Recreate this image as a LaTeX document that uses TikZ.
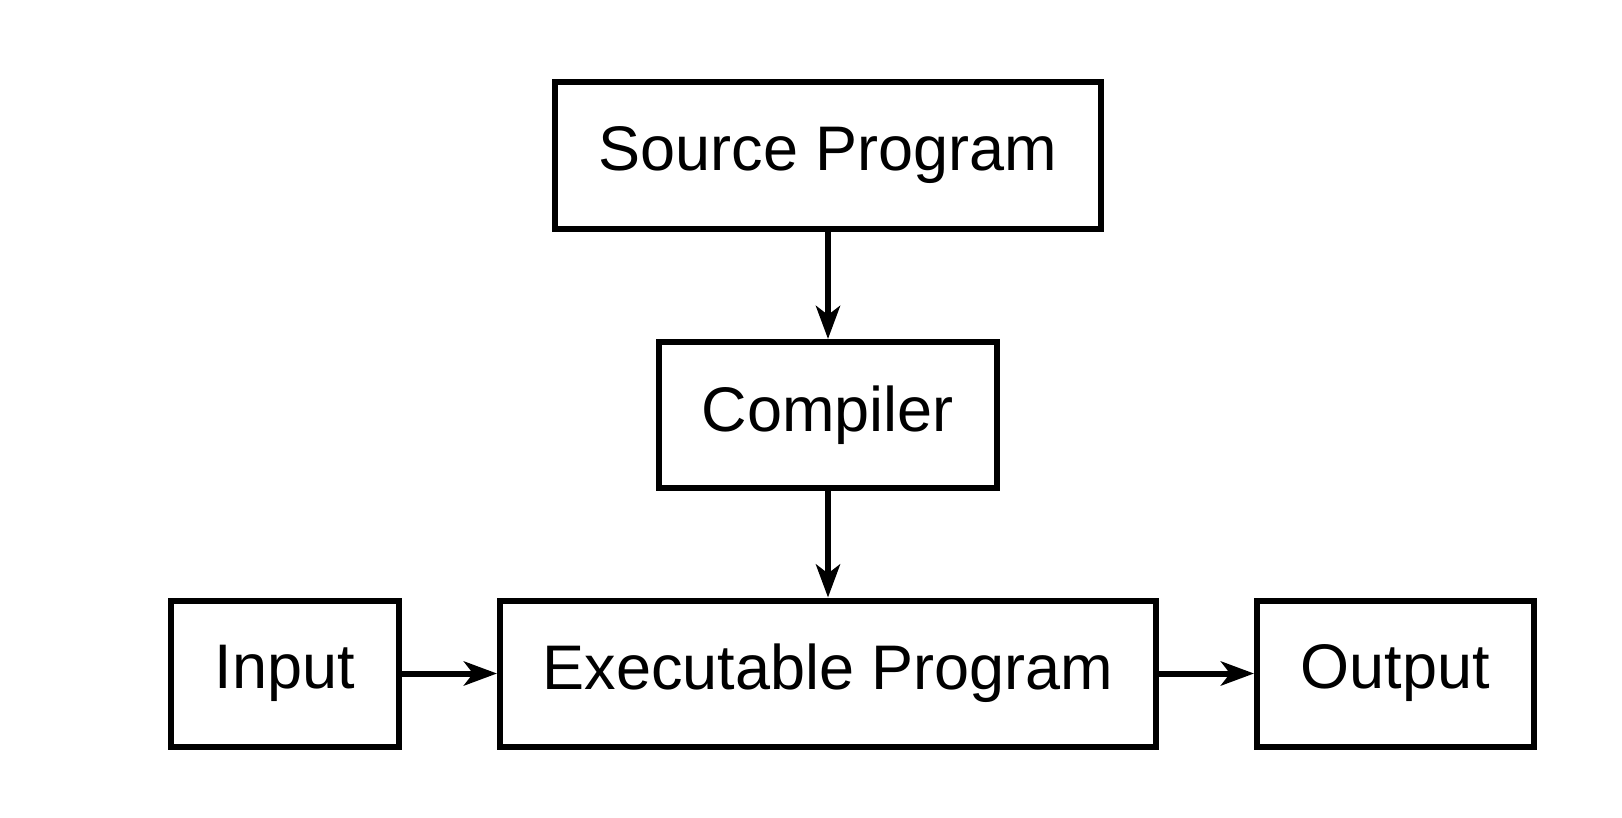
\documentclass[tikz,border=0pt]{standalone}
\usepackage{fontspec}
\setmainfont{Liberation Sans}
\usetikzlibrary{arrows.meta}
\begin{document}
\begin{tikzpicture}[x=0.5pt,y=-0.5pt,
  box/.style={draw, line width=3pt, inner sep=0pt, minimum width=#1, minimum height=73pt,
    font=\fontsize{31.5}{36}\selectfont},
  flow/.style={line width=3pt, -{Stealth[length=16.5pt,width=12pt,inset=4.5pt]}}]
\useasboundingbox (0,0) rectangle (1622,818);
\node[box=273pt, minimum height=73.5pt] (src) at (828,155.5) {Source Program};
\node[box=169pt] (comp) at (828,415) {Compiler};
\node[box=114pt] (inp) at (285,673.5) {Input};
\node[box=328pt] (exe) at (828,673.5) {Executable Program};
\node[box=138.5pt] (out) at (1395.5,673.5) {Output};
\draw[flow] (src) -- (comp);
\draw[flow] (comp) -- (exe);
\draw[flow] (inp) -- (exe);
\draw[flow] (exe) -- (out);
\end{tikzpicture}
\end{document}
